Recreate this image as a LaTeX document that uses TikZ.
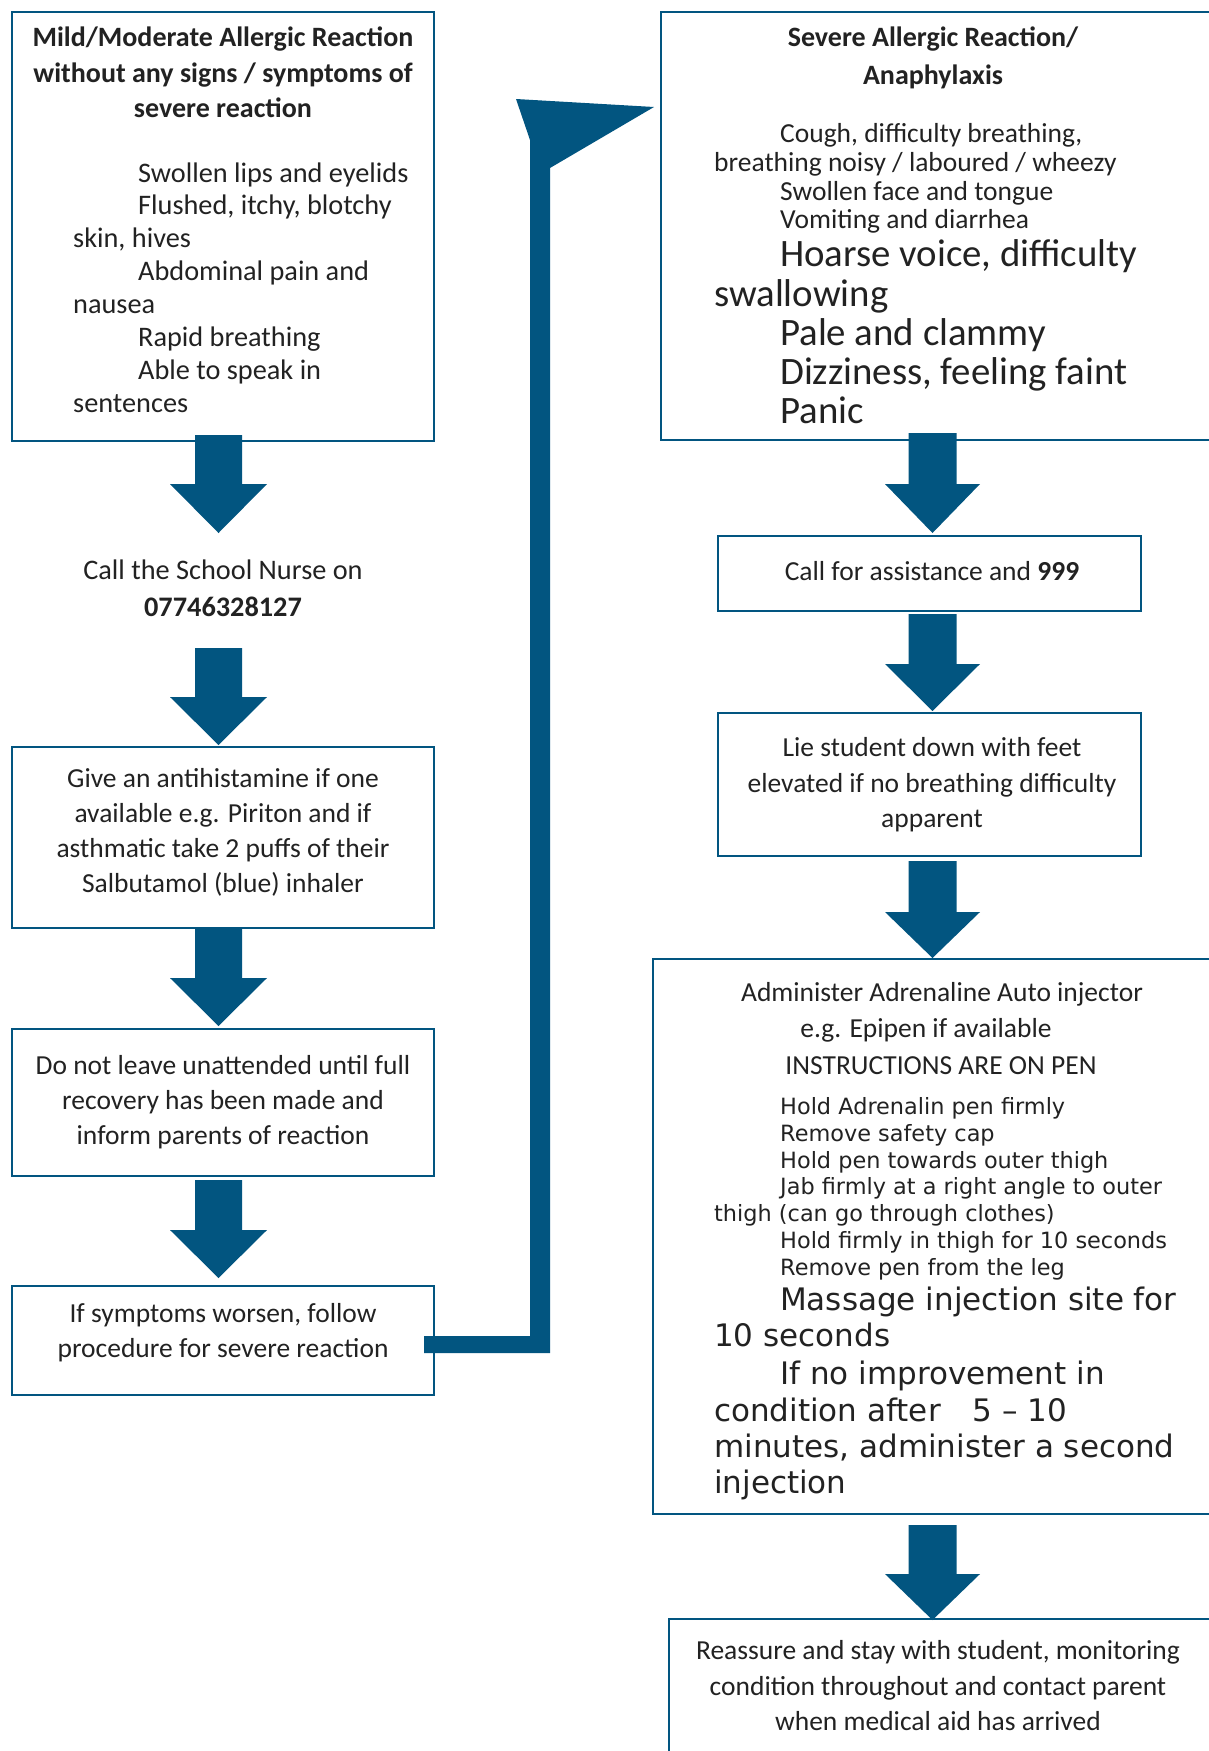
\documentclass[tikz,border=0pt]{standalone}
\usepackage{fontspec}
\setmainfont{Carlito}
\newfontfamily\verd{DejaVu Sans}
\definecolor{nblue}{RGB}{2,85,128}
\definecolor{txt}{RGB}{34,34,34}
\newcommand{\blockarrow}[6]{\fill[nblue] (#1-#5,#2) -- (#1+#5,#2) -- (#1+#5,#3) -- (#1+#6,#3) -- (#1,#4) -- (#1-#6,#3) -- (#1-#5,#3) -- cycle;}
\begin{document}
\begin{tikzpicture}[x=1pt,y=-1pt,
  box/.style={draw=nblue,line width=1.8pt,inner sep=0pt,outer sep=0pt,anchor=north west},
  tl/.style={inner sep=0pt,text=txt,anchor=mid west},
  tc/.style={inner sep=0pt,text=txt,anchor=mid},
  fa/.style={font=\fontsize{27.5}{33}\selectfont},
  fl/.style={font=\fontsize{28.3}{33}\selectfont},
  fb/.style={font=\fontsize{28}{33}\selectfont\bfseries},
  fbig/.style={font=\fontsize{38.8}{44}\selectfont},
  fv/.style={font=\verd\fontsize{22.4}{27}\selectfont},
  fvb/.style={font=\verd\fontsize{31}{36}\selectfont}]
\useasboundingbox (0,0) rectangle (1209,1751);
\fill[white] (0,0) rectangle (1209,1751);
\clip (0,0) rectangle (1209,1751);

% boxes
\node[box,minimum width=422pt,minimum height=429pt] (L1) at (12,12) {};
\node[box,minimum width=422pt,minimum height=181pt] (L3) at (12,747) {};
\node[box,minimum width=422pt,minimum height=147pt] (L4) at (12,1029) {};
\node[box,minimum width=422pt,minimum height=109pt] (L5) at (12,1286) {};
\node[box,minimum width=570pt,minimum height=428pt] (R1) at (661,12) {};
\node[box,minimum width=423pt,minimum height=75pt] (R2) at (718,536) {};
\node[box,minimum width=423pt,minimum height=143pt] (R3) at (718,713) {};
\node[box,minimum width=580pt,minimum height=555pt] (R4) at (653,959) {};
\node[box,minimum width=565pt,minimum height=170pt] (R5) at (669,1619) {};

% block arrows
\blockarrow{218.5}{435}{484}{533}{23.5}{48.5}
\blockarrow{218.5}{648}{697}{745}{23.5}{48.5}
\blockarrow{218.5}{928}{978}{1026}{23.5}{48.5}
\blockarrow{218.5}{1180}{1230}{1278}{23.5}{48.5}
\blockarrow{932.5}{433}{484}{533}{24}{47.5}
\blockarrow{932.5}{614}{664}{711}{24}{47.5}
\blockarrow{932.5}{861}{912}{958}{24}{47.5}
\blockarrow{932.5}{1525}{1574}{1620}{24}{47.5}

% connector from L5 up to R1
\fill[nblue] (516,99) -- (654,107) -- (550,168) -- (550,1353) -- (424,1353)
  -- (424,1336) -- (530,1336) -- (530,140) -- cycle;

% L1 text
\node[tc,fb] (l1a) at (223,44) {Mild/Moderate Allergic Reaction};
\node[tc,fb] (l1b) at (223,80) {without any signs / symptoms of};
\node[tc,fb] (l1c) at (223,115) {severe reaction};
\node[tl,fl] (l1d) at (138,180) {Swollen lips and eyelids};
\node[tl,fl] (l1e) at (138,212) {Flushed, itchy, blotchy};
\node[tl,fl] (l1f) at (73,245) {skin, hives};
\node[tl,fl] (l1g) at (138,278) {Abdominal pain and};
\node[tl,fl] (l1h) at (73,311) {nausea};
\node[tl,fl] (l1i) at (138,344) {Rapid breathing};
\node[tl,fl] (l1j) at (138,377) {Able to speak in};
\node[tl,fl] (l1k) at (73,410) {sentences};

% nurse
\node[tc,fl] (n1) at (223,577) {Call the School Nurse on};
\node[tc,fl] (n2) at (223,614) {\bfseries 07746328127};

% L3
\node[tc,fa] (l3a) at (223,785) {Give an antihistamine if one};
\node[tc,fa] (l3b) at (223,820) {available e.g. Piriton and if};
\node[tc,fa] (l3c) at (223,855) {asthmatic take 2 puffs of their};
\node[tc,fa] (l3d) at (223,890) {Salbutamol (blue) inhaler};

% L4
\node[tc,fa] (l4a) at (223,1072) {Do not leave unattended until full};
\node[tc,fa] (l4b) at (223,1107) {recovery has been made and};
\node[tc,fa] (l4c) at (223,1142) {inform parents of reaction};

% L5
\node[tc,fa] (l5a) at (223,1320) {If symptoms worsen, follow};
\node[tc,fa] (l5b) at (223,1355) {procedure for severe reaction};

% R1
\node[tc,fb] (r1a) at (933,44) {Severe Allergic Reaction/};
\node[tc,fb] (r1b) at (933,82) {Anaphylaxis};
\node[tl,fa] (r1c) at (780,140) {Cough, difficulty breathing,};
\node[tl,fa] (r1d) at (714,169) {breathing noisy / laboured / wheezy};
\node[tl,fa] (r1e) at (780,198) {Swollen face and tongue};
\node[tl,fa] (r1f) at (780,226) {Vomiting and diarrhea};
\node[tl,fbig] (r1g) at (780,264) {Hoarse voice, difficulty};
\node[tl,fbig] (r1h) at (714,304) {swallowing};
\node[tl,fbig] (r1i) at (780,343) {Pale and clammy};
\node[tl,fbig] (r1j) at (780,382) {Dizziness, feeling faint};
\node[tl,fbig] (r1k) at (780,421) {Panic};

% R2, R3
\node[tc,fa] (r2a) at (932,578) {Call for assistance and \textbf{999}};
\node[tc,fa] (r3a) at (932,754) {Lie student down with feet};
\node[tc,fa] (r3b) at (932,790) {elevated if no breathing difficulty};
\node[tc,fa] (r3c) at (932,825) {apparent};

% R4
\node[tc,fa] (r4a) at (942,999) {Administer Adrenaline Auto injector};
\node[tc,fa] (r4b) at (926,1035) {e.g. Epipen if available};
\node[tc,fa] (r4c) at (941,1072) {INSTRUCTIONS ARE ON PEN};
\node[tl,fv] (r4d) at (780,1112) {Hold Adrenalin pen firmly};
\node[tl,fv] (r4e) at (780,1139) {Remove safety cap};
\node[tl,fv] (r4f) at (780,1166) {Hold pen towards outer thigh};
\node[tl,fv] (r4g) at (780,1192) {Jab firmly at a right angle to outer};
\node[tl,fv] (r4h) at (714,1219) {thigh (can go through clothes)};
\node[tl,fv] (r4i) at (780,1246) {Hold firmly in thigh for 10 seconds};
\node[tl,fv] (r4j) at (780,1273) {Remove pen from the leg};
\node[tl,fvb] (r4k) at (780,1308) {Massage injection site for};
\node[tl,fvb] (r4l) at (714,1344) {10 seconds};
\node[tl,fvb] (r4m) at (780,1382) {If no improvement in};
\node[tl,fvb] (r4n) at (714,1419) {condition after\hspace*{22pt} 5 – 10};
\node[tl,fvb] (r4o) at (714,1455) {minutes, administer a second};
\node[tl,fvb] (r4p) at (714,1491) {injection};

% R5
\node[tc,fa] (r5a) at (938,1657) {Reassure and stay with student, monitoring};
\node[tc,fa] (r5b) at (938,1693) {condition throughout and contact parent};
\node[tc,fa] (r5c) at (938,1728) {when medical aid has arrived};
\end{tikzpicture}
\end{document}
